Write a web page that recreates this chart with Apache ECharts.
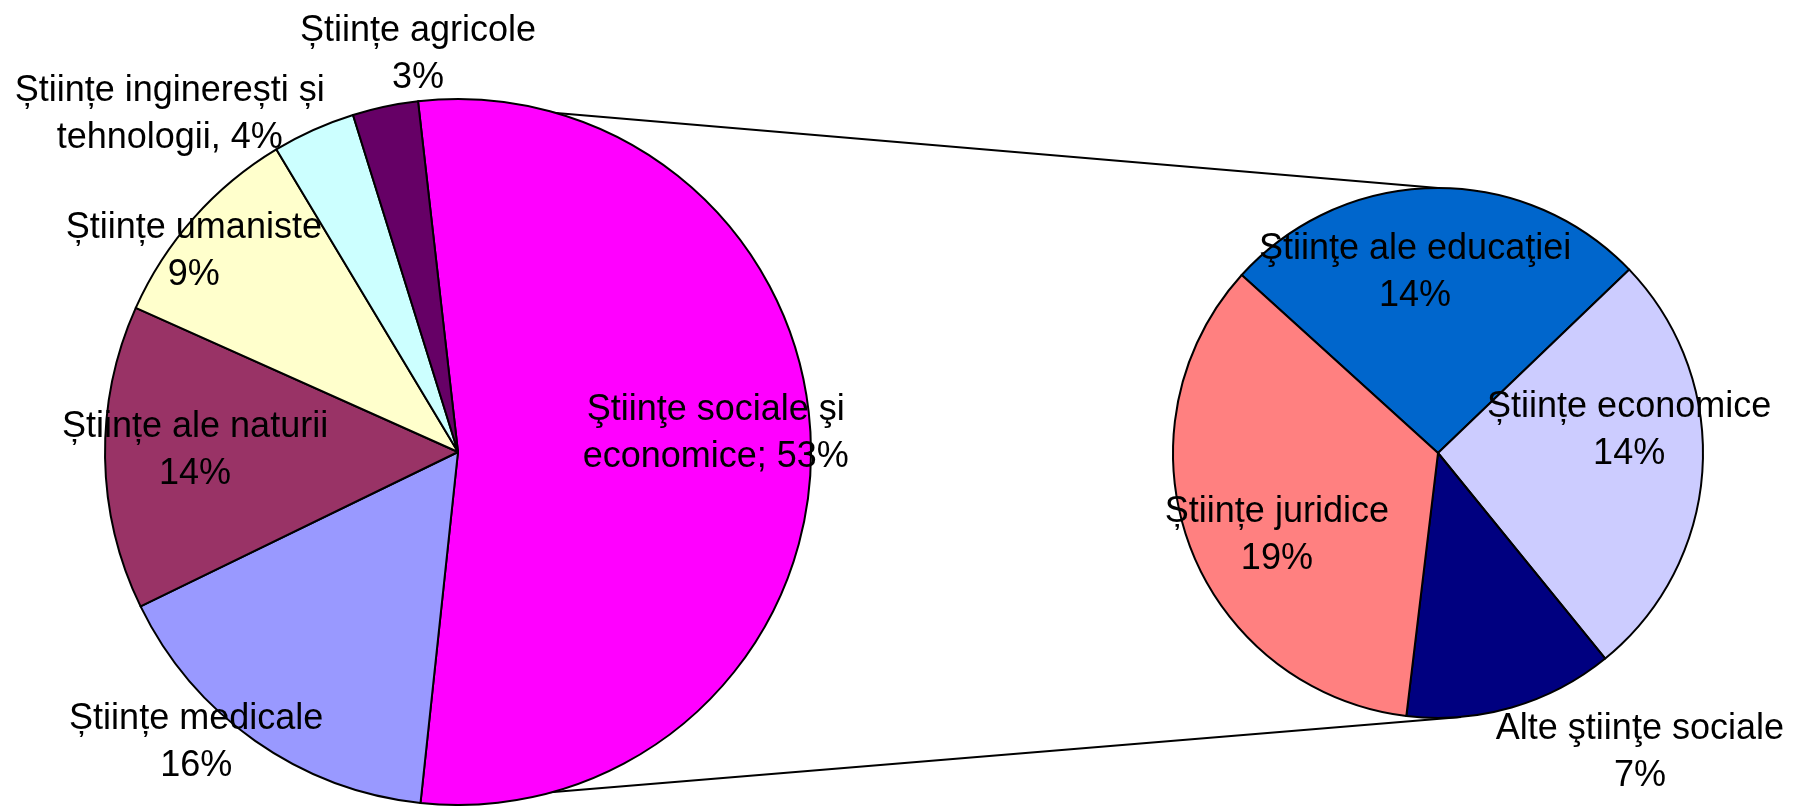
<!DOCTYPE html>
<html>
<head>
<meta charset="utf-8">
<script src="https://cdn.jsdelivr.net/npm/echarts@6/dist/echarts.min.js"></script>
<style>
  html, body { margin: 0; padding: 0; background: #fff; }
  #chart { width: 1794px; height: 806px; }
</style>
</head>
<body>
<div id="chart"></div>
<script>
// pie-ul principal: domenii de stiinta
var leftNames = ['Ştiinţe sociale şi economice', 'Științe medicale', 'Științe ale naturii',
                 'Științe umaniste', 'Științe inginerești și tehnologii', 'Științe agricole'];
var leftValues = [53.5, 16.1, 13.9, 9.7, 3.8, 3.0];
var leftLabels = ['Ştiinţe sociale şi\neconomice; 53%', 'Științe medicale\n16%', 'Științe ale naturii\n14%',
                  'Științe umaniste\n9%', 'Științe inginerești și\ntehnologii, 4%', 'Științe agricole\n3%'];

// pie-ul secundar: detaliu pentru stiinte sociale si economice
var rightNames = ['Ştiinţe ale educaţiei', 'Științe economice', 'Alte ştiinţe sociale', 'Științe juridice'];
var rightValues = [14.1, 14.2, 6.9, 18.8];
var rightLabels = ['Ştiinţe ale educaţiei\n14%', 'Științe economice\n14%', 'Alte ştiinţe sociale\n7%', 'Științe juridice\n19%'];

var leftColors = ['#FF00FF', '#9999FF', '#993366', '#FFFFCC', '#CCFFFF', '#660066'];
var rightColors = ['#0066CC', '#CCCCFF', '#000080', '#FF8080'];

// geometrie
var L = { cx: 458, cy: 452, r: 353, start: 96.5 };
var R = { cx: 1438, cy: 453, r: 265, start: 137.8 };
// pozitia etichetelor: [unghi in grade, distanta / raza]
var leftLabelPos = [[4.9, 0.733], [227.6, 1.10], [178.9, 0.745], [142.2, 0.947], [130.2, 1.265], [95.7, 1.142]];
var rightLabelPos = [[97.1, 0.70], [7.8, 0.728], [-55.7, 1.352], [206.1, 0.677]];

var chart = echarts.init(document.getElementById('chart'));

function polarLayout(p, pos) {
    return function (params) {
        var q = pos[params.dataIndex];
        var a = q[0] * Math.PI / 180;
        return {
            x: p.cx + q[1] * p.r * Math.cos(a),
            y: p.cy - q[1] * p.r * Math.sin(a) + 4,
            align: 'center',
            verticalAlign: 'middle'
        };
    };
}

function pointAt(p, deg) {
    var a = deg * Math.PI / 180;
    return [p.cx + p.r * Math.cos(a), p.cy - p.r * Math.sin(a)];
}

function pieSeries(p, names, values, colors, labels, pos) {
    return {
        type: 'pie',
        center: [p.cx, p.cy],
        radius: p.r,
        startAngle: p.start,
        clockwise: true,
        avoidLabelOverlap: false,
        silent: true,
        itemStyle: { borderColor: '#000', borderWidth: 2 },
        label: {
            show: true,
            position: 'inside',
            color: '#000',
            fontFamily: '"Liberation Sans", Arial, sans-serif',
            fontSize: 36,
            lineHeight: 47,
            textBorderWidth: 0,
            formatter: function (params) { return labels[params.dataIndex]; }
        },
        labelLine: { show: false },
        labelLayout: polarLayout(p, pos),
        emphasis: { disabled: true },
        data: names.map(function (n, i) {
            return { name: n, value: values[i], itemStyle: { color: colors[i] } };
        })
    };
}

// liniile de legatura pornesc de la marginile felei "sociale si economice"
var total = leftValues.reduce(function (a, b) { return a + b; }, 0);
var splitEnd = L.start - 360 * leftValues[0] / total;
var a1 = pointAt(L, L.start), b1 = pointAt(R, 90);
var a2 = pointAt(L, splitEnd), b2 = pointAt(R, -85);

chart.setOption({
    animation: false,
    backgroundColor: '#fff',
    series: [
        pieSeries(L, leftNames, leftValues, leftColors, leftLabels, leftLabelPos),
        pieSeries(R, rightNames, rightValues, rightColors, rightLabels, rightLabelPos)
    ],
    graphic: [
        { type: 'line', z: 1, shape: { x1: a1[0], y1: a1[1], x2: b1[0], y2: b1[1] }, style: { stroke: '#000', lineWidth: 2 } },
        { type: 'line', z: 1, shape: { x1: a2[0], y1: a2[1], x2: b2[0], y2: b2[1] }, style: { stroke: '#000', lineWidth: 2 } }
    ]
});
</script>
</body>
</html>
